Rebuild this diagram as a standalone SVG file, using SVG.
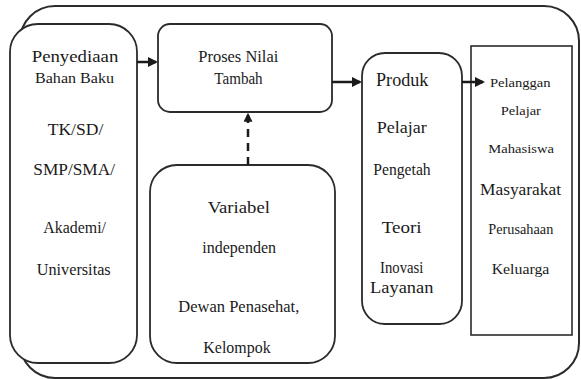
<svg xmlns="http://www.w3.org/2000/svg" width="581" height="379" viewBox="0 0 581 379">
<style>
.box{fill:#fff;stroke:#2b2b2b;stroke-width:1.8}
.outer{fill:none;stroke:#2b2b2b;stroke-width:2}
.conn{fill:none;stroke:#1a1a1a;stroke-width:2.5}
.dash{stroke-dasharray:8 6}
text{font-family:"Liberation Serif","Times New Roman",serif;fill:#1a1a1a;text-anchor:middle}
</style>
<defs>
<marker id="ah" viewBox="0 0 10 10" refX="8" refY="5" markerWidth="10" markerHeight="11" markerUnits="userSpaceOnUse" orient="auto">
<path d="M0,0 L10,5 L0,10 z" fill="#1a1a1a"/>
</marker>
<marker id="ahv" viewBox="0 0 10 10" refX="8" refY="5" markerWidth="14" markerHeight="9" markerUnits="userSpaceOnUse" orient="auto">
<path d="M0,0 L10,5 L0,10 z" fill="#1a1a1a"/>
</marker>
</defs>
<rect class="outer" x="20" y="6" width="559" height="372" rx="35" ry="35"/>
<g id="penyediaan">
<rect class="box" x="10" y="24" width="127" height="339" rx="28" ry="28"/>
<text x="75" y="61.7" font-size="17.5" textLength="86.6" lengthAdjust="spacingAndGlyphs">Penyediaan</text>
<text x="74.5" y="83.3" font-size="15" textLength="79" lengthAdjust="spacingAndGlyphs">Bahan Baku</text>
<text x="75.5" y="135" font-size="17.5" textLength="55.6" lengthAdjust="spacingAndGlyphs">TK/SD/</text>
<text x="74.2" y="175" font-size="17.5" textLength="81.7" lengthAdjust="spacingAndGlyphs">SMP/SMA/</text>
<text x="74.7" y="232.7" font-size="16.5" textLength="62.7" lengthAdjust="spacingAndGlyphs">Akademi/</text>
<text x="73.7" y="275" font-size="17" textLength="74" lengthAdjust="spacingAndGlyphs">Universitas</text>
</g>
<g id="proses">
<rect class="box" x="158" y="24" width="174" height="88" rx="12" ry="12"/>
<text x="238.3" y="61.7" font-size="17" textLength="80" lengthAdjust="spacingAndGlyphs">Proses Nilai</text>
<text x="238.5" y="84" font-size="17" textLength="48.3" lengthAdjust="spacingAndGlyphs">Tambah</text>
</g>
<g id="variabel">
<rect class="box" x="150" y="165" width="185" height="198" rx="27" ry="27"/>
<text x="238.8" y="212.7" font-size="17.5" textLength="62.3" lengthAdjust="spacingAndGlyphs">Variabel</text>
<text x="239.2" y="253.3" font-size="17" textLength="73.7" lengthAdjust="spacingAndGlyphs">independen</text>
<text x="238.8" y="311.7" font-size="17" textLength="121" lengthAdjust="spacingAndGlyphs">Dewan Penasehat,</text>
<text x="237" y="352.7" font-size="17" textLength="67.3" lengthAdjust="spacingAndGlyphs">Kelompok</text>
</g>
<g id="produk">
<rect class="box" x="362" y="53" width="100" height="271" rx="23" ry="23"/>
<text x="402.2" y="86" font-size="18" textLength="52.3" lengthAdjust="spacingAndGlyphs">Produk</text>
<text x="401.7" y="133.3" font-size="17.5" textLength="50" lengthAdjust="spacingAndGlyphs">Pelajar</text>
<text x="402" y="175" font-size="17" textLength="57.3" lengthAdjust="spacingAndGlyphs">Pengetah</text>
<text x="401.7" y="233.3" font-size="17.5" textLength="40" lengthAdjust="spacingAndGlyphs">Teori</text>
<text x="401.7" y="273.3" font-size="17" textLength="43.3" lengthAdjust="spacingAndGlyphs">Inovasi</text>
<text x="401.7" y="293.3" font-size="17.5" textLength="63.3" lengthAdjust="spacingAndGlyphs">Layanan</text>
</g>
<g id="pelanggan">
<rect class="box" x="471" y="46" width="101" height="289" style="stroke-width:1.6"/>
<text x="520.3" y="87.3" font-size="13.5" textLength="60.7" lengthAdjust="spacingAndGlyphs">Pelanggan</text>
<text x="520.8" y="115" font-size="13.5" textLength="40.3" lengthAdjust="spacingAndGlyphs">Pelajar</text>
<text x="521.2" y="153.3" font-size="13.5" textLength="65.7" lengthAdjust="spacingAndGlyphs">Mahasiswa</text>
<text x="520.5" y="195" font-size="16" textLength="81" lengthAdjust="spacingAndGlyphs">Masyarakat</text>
<text x="520.8" y="234.3" font-size="14.5" textLength="65" lengthAdjust="spacingAndGlyphs">Perusahaan</text>
<text x="520.5" y="274" font-size="15.5" textLength="57.7" lengthAdjust="spacingAndGlyphs">Keluarga</text>
</g>
<g id="connectors">
<line class="conn" x1="137" y1="62" x2="156" y2="62" marker-end="url(#ah)"/>
<line class="conn dash" x1="248" y1="165" x2="248" y2="114.5" marker-end="url(#ahv)"/>
<line class="conn" x1="332" y1="82" x2="360" y2="82" marker-end="url(#ah)"/>
<line class="conn" x1="462" y1="82" x2="483" y2="82" marker-end="url(#ah)"/>
</g>
</svg>
